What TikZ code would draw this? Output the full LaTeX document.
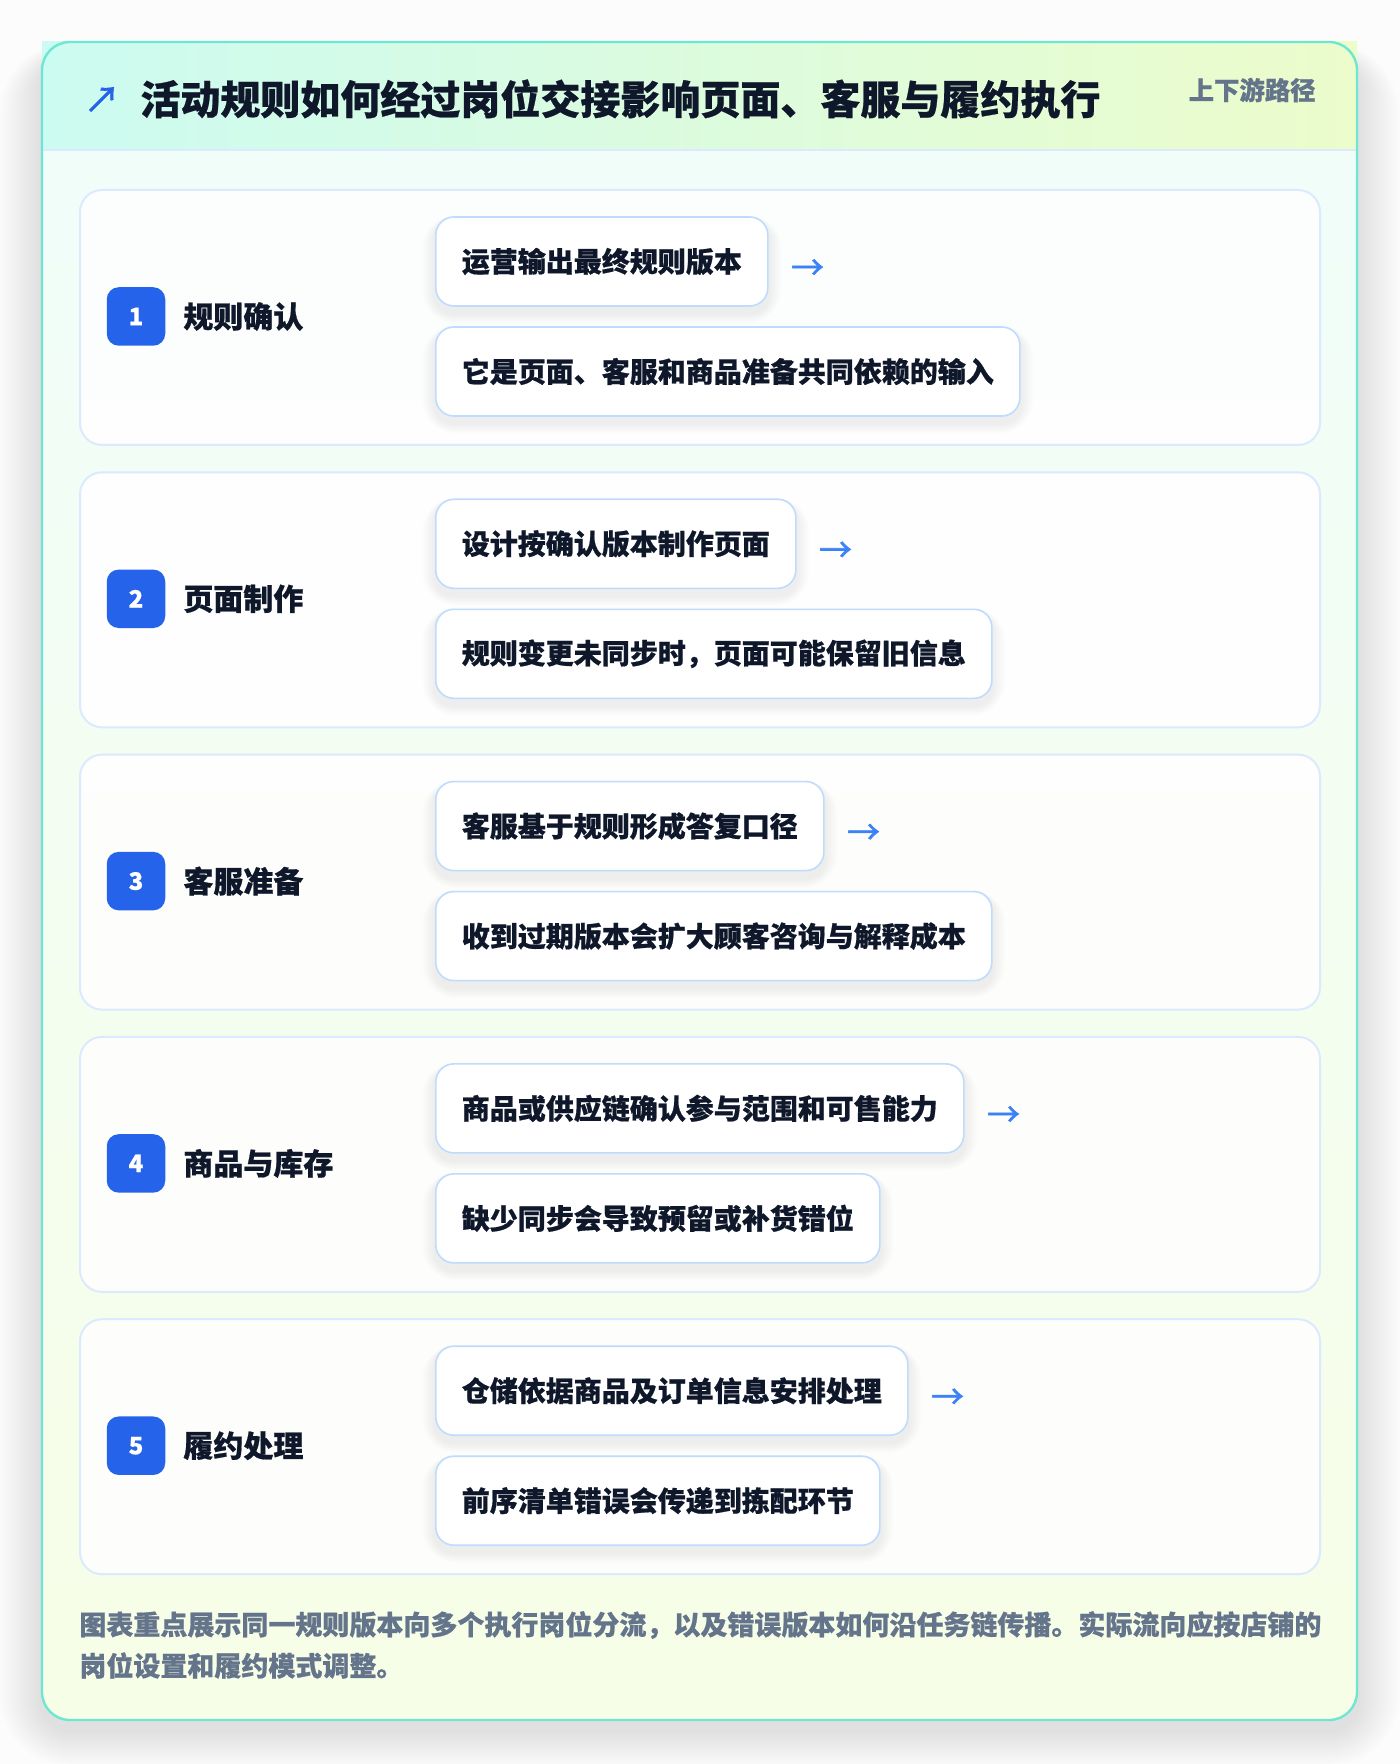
\documentclass[tikz,border=0pt]{standalone}
\usepackage{fontspec}
\setmainfont{Noto Sans CJK SC}[BoldFeatures={FakeBold=0.6}]
\newfontfamily\arrowfont{Noto Sans CJK SC}[FakeBold=1.6]
\usetikzlibrary{positioning,calc}
\pgfdeclarelayer{cards}
\pgfdeclarelayer{shadows}
\pgfsetlayers{cards,shadows,main}
\definecolor{pagebg}{HTML}{FCFCFD}
\definecolor{tealborder}{HTML}{6EE7D2}
\definecolor{headl}{HTML}{CCFBF1}
\definecolor{headr}{HTML}{ECFCCB}
\definecolor{bodytop}{HTML}{F0FDFA}
\definecolor{bodybot}{HTML}{F7FEE7}
\definecolor{headline}{HTML}{DBEAFE}
\definecolor{cardborder}{HTML}{DBEAFE}
\definecolor{boxborder}{HTML}{BFDBFE}
\definecolor{badgeblue}{HTML}{2563EB}
\definecolor{arrowblue}{HTML}{3B82F6}
\definecolor{ink}{HTML}{0F172A}
\definecolor{slate}{HTML}{64748B}
\tikzset{
  card/.style={draw=cardborder, line width=1pt, fill=white, fill opacity=0.85, text opacity=1,
    rounded corners=11pt, minimum width=620pt, minimum height=127.5pt, anchor=north west, inner sep=0pt},
  badge/.style={fill=badgeblue, rounded corners=6pt, minimum size=29.25pt, inner sep=0pt,
    text=white, font=\fontsize{12pt}{12pt}\selectfont\bfseries},
  steplabel/.style={anchor=west, inner sep=0pt, text=ink, font=\fontsize{15pt}{15pt}\selectfont\bfseries},
  stepbox/.style={draw=boxborder, line width=0.8pt, fill=white, rounded corners=9pt,
    minimum height=44.5pt, inner xsep=13pt, inner ysep=0pt, anchor=west, text=ink,
    font=\fontsize{14pt}{14pt}\selectfont\bfseries},
  flowarrow/.style={inner sep=0pt, text=arrowblue, font=\fontsize{16.5pt}{16.5pt}\selectfont\arrowfont},
  softshade/.style={fill=black, opacity=0.009},
}
\newcommand{\boxshadow}[1]{%
  \begin{pgfonlayer}{shadows}
  \foreach \k in {1,...,8}{
    \fill[softshade, rounded corners=9pt+\k pt]
      ($(#1.south west)+(-1.6*\k,7+1.2*\k)$) rectangle ($(#1.north east)+(1.6*\k,4-0.6*\k)$);
  }
  \end{pgfonlayer}}
\begin{document}
\begin{tikzpicture}[x=0.5pt,y=-0.5pt]
\useasboundingbox (0,0) rectangle (1400,1764);
\begin{pgfonlayer}{cards}
\fill[pagebg] (0,0) rectangle (1400,1764);
% outer card shadow
\foreach \k in {1,...,14}{
  \fill[fill=black, opacity=0.006, rounded corners=14pt+1.5*\k pt]
    (42-3*\k,42+18-1.2*\k) rectangle (1357+3*\k,1720+10+2.6*\k);
}
% outer card
\shade[top color=bodytop, bottom color=bodybot, rounded corners=14pt] (42,42) rectangle (1357,1720);
\shade[left color=headl, right color=headr] (42,42) rectangle (1357,150);
\draw[headline, line width=1.2pt] (42,150) -- (1357,150);
\draw[tealborder, line width=1.2pt, rounded corners=14pt] (42,42) rectangle (1357,1720);
\end{pgfonlayer}
% header
\node[inner sep=0pt, text=badgeblue, font=\fontsize{18pt}{18pt}\selectfont\arrowfont] (icon) at (102,100) {↗};
\node[anchor=west, inner sep=0pt, text=ink, font=\fontsize{20pt}{20pt}\selectfont\bfseries] (title) at (140,99) {活动规则如何经过岗位交接影响页面、客服与履约执行};
\node[anchor=east, inner sep=0pt, text=slate, font=\fontsize{12.7pt}{12.7pt}\selectfont\bfseries] (tag) at (1316,90) {上下游路径};
% steps
\foreach \i/\lab/\ta/\tb in {
  1/规则确认/运营输出最终规则版本/它是页面、客服和商品准备共同依赖的输入,
  2/页面制作/设计按确认版本制作页面/规则变更未同步时，页面可能保留旧信息,
  3/客服准备/客服基于规则形成答复口径/收到过期版本会扩大顾客咨询与解释成本,
  4/商品与库存/商品或供应链确认参与范围和可售能力/缺少同步会导致预留或补货错位,
  5/履约处理/仓储依据商品及订单信息安排处理/前序清单错误会传递到拣配环节}{
  \pgfmathsetmacro\cy{189+282.3*(\i-1)}
  \begin{pgfonlayer}{cards}
  \node[card] (c\i) at (79,\cy) {};
  \end{pgfonlayer}
  \node[badge] (n\i) at (136,\cy+127.5) {\i};
  \node[steplabel] (l\i) at (183,\cy+127.5) {\lab};
  \node[stepbox] (a\i) at (435,\cy+72.5) {\ta};
  \node[stepbox] (b\i) at (435,\cy+182.5) {\tb};
  \boxshadow{a\i}
  \boxshadow{b\i}
  \node[flowarrow, anchor=west, right=11pt of a\i.east, yshift=-4pt] (r\i) {→};
}
% footer
\node[anchor=west, inner sep=0pt, text=slate, font=\fontsize{13.5pt}{13.5pt}\selectfont\bfseries] (foot1) at (79,1625) {图表重点展示同一规则版本向多个执行岗位分流，以及错误版本如何沿任务链传播。实际流向应按店铺的};
\node[anchor=west, inner sep=0pt, text=slate, font=\fontsize{13.5pt}{13.5pt}\selectfont\bfseries] (foot2) at (79,1665.5) {岗位设置和履约模式调整。};
\end{tikzpicture}
\end{document}
